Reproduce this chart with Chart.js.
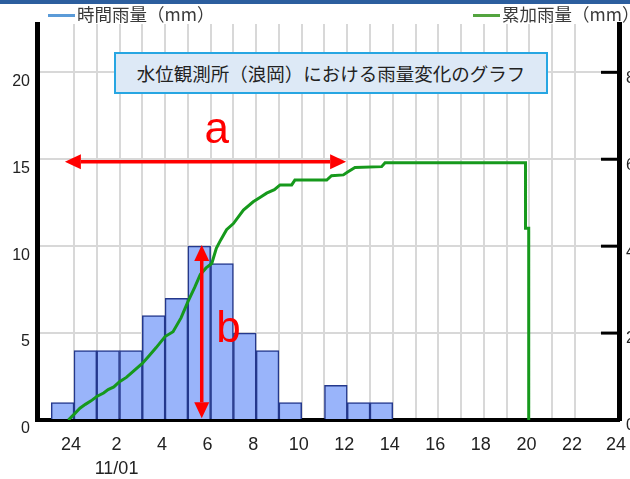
<!DOCTYPE html>
<html lang="ja">
<head>
<meta charset="utf-8">
<title>水位観測所（浪岡）における雨量変化のグラフ</title>
<script src="https://cdn.jsdelivr.net/npm/chart.js@4/dist/chart.umd.min.js"></script>
<style>
  html, body { margin: 0; padding: 0; background: #fff; overflow: hidden; }
  #wrap { position: relative; width: 630px; height: 479px; }
  #topbar { position: absolute; left: 0; top: 0; width: 630px; height: 4px; background: #2c5e9e; }
  .legend { position: absolute; top: 3px; font: 17.5px "Noto Sans CJK JP", sans-serif; color: #3a3a3a; line-height: 22px; white-space: nowrap; }
  .legend i { display: inline-block; width: 27px; height: 3px; vertical-align: middle; margin-right: 2px; position: relative; top: -1px; }
  #titlebox { position: absolute; left: 114px; top: 52px; width: 430px; height: 38px; border: 2px solid #27a6e2;
              background: #dde9f6; font: 18.5px "Noto Sans CJK JP", sans-serif; color: #222; text-align: center; line-height: 38px; }
</style>
</head>
<body>
<div id="wrap">
  <canvas id="rainChart"></canvas>
  <div id="topbar"></div>
  <div class="legend" id="legHourly" style="left:48px"><i style="background:#5b9bd8"></i><span></span></div>
  <div class="legend" id="legCum" style="left:473px"><i style="background:#53a43f"></i><span></span></div>
  <div id="titlebox">水位観測所（浪岡）における雨量変化のグラフ</div>
</div>
<script>
// 時間雨量: 各時刻までの1時間の雨量 (mm)
const hours = [0, 1, 2, 3, 4, 5, 6, 7, 8, 9, 10, 11, 12, 13, 14];
const hourlyRain = [1, 4, 4, 4, 6, 7, 10, 9, 5, 4, 1, 0, 2, 1, 1];

// 累加雨量 (mm), 時刻は 11/01 0時からの時間
const cumHours = [-0.25, 0.0, 0.26, 0.5, 0.75, 1.0, 1.3, 1.5, 1.75, 2.0, 2.3, 2.6, 3.0, 3.3, 3.6, 4.0, 4.35, 4.7,
                  5.0, 5.3, 5.55, 5.8, 6.05, 6.25, 6.45, 6.7, 7.0, 7.44, 7.87, 8.2, 8.46, 8.8, 9.05, 9.56, 9.7,
                  11.1, 11.31, 11.83, 12.0, 12.34, 13.51, 13.66, 19.83, 19.83, 19.97, 19.97];
const cumRain = [0, 1.3, 2.7, 3.6, 4.4, 5.4, 6.2, 7.0, 7.6, 8.8, 9.8, 11.2, 13.0, 14.8, 16.6, 19.2, 20.3, 23.5,
                 27.2, 30.5, 33.5, 35.0, 36.0, 39.5, 41.5, 43.8, 45.2, 48.3, 50.2, 51.3, 52.2, 53.0, 54.1, 54.1, 55.2,
                 55.2, 56.2, 56.4, 57.0, 58.1, 58.3, 59.2, 59.2, 44.1, 44.1, 0];

// 横軸の目盛ラベル
const tickHours = [0, 2, 4, 6, 8, 10, 12, 14, 16, 18, 20, 22, 24];
const tickLabels = ['24', '2', '4', '6', '8', '10', '12', '14', '16', '18', '20', '22', '24'];
const dateLabel = '11/01';

const seriesNames = ['時間雨量（mm）', '累加雨量（mm）'];

// 注記 a, b (データ座標)
const arrowA = { from: -0.4, to: 11.95, level: 14.85 };
const arrowB = { at: 5.61, from: 0.1, to: 10.07 };
const letterA = { text: 'a', x: 6.27, y: 15.94 };
const letterB = { text: 'b', x: 6.78, y: 4.49 };

document.getElementById('legHourly').querySelector('span').textContent = seriesNames[0];
document.getElementById('legCum').querySelector('span').textContent = seriesNames[1];

function drawArrow(ctx, ax, ay, bx, by) {
  const len = 16, hw = 7.5;
  const ang = Math.atan2(by - ay, bx - ax);
  const ux = Math.cos(ang), uy = Math.sin(ang);
  ctx.beginPath();
  ctx.moveTo(ax + ux * len, ay + uy * len);
  ctx.lineTo(bx - ux * len, by - uy * len);
  ctx.stroke();
  const head = (tx, ty, dx, dy) => {
    ctx.beginPath();
    ctx.moveTo(tx, ty);
    ctx.lineTo(tx - dx * len - dy * hw, ty - dy * len + dx * hw);
    ctx.lineTo(tx - dx * len + dy * hw, ty - dy * len - dx * hw);
    ctx.closePath();
    ctx.fill();
  };
  head(bx, by, ux, uy);
  head(ax, ay, -ux, -uy);
}

const overlay = {
  id: 'overlay',
  afterDatasetsDraw(chart) {
    const { ctx, chartArea, scales: { x, y, y1 } } = chart;
    ctx.save();
    // 右軸の内向き目盛
    ctx.strokeStyle = '#000';
    ctx.lineWidth = 3;
    y1.ticks.forEach(t => {
      if (t.value === 0) return;
      const py = y1.getPixelForValue(t.value);
      ctx.beginPath();
      ctx.moveTo(chartArea.right - 18, py);
      ctx.lineTo(chartArea.right, py);
      ctx.stroke();
    });
    // 矢印
    ctx.strokeStyle = '#ff0000';
    ctx.fillStyle = '#ff0000';
    ctx.lineWidth = 3.5;
    drawArrow(ctx, x.getPixelForValue(arrowA.from), y.getPixelForValue(arrowA.level),
                   x.getPixelForValue(arrowA.to), y.getPixelForValue(arrowA.level));
    drawArrow(ctx, x.getPixelForValue(arrowB.at), y.getPixelForValue(arrowB.to),
                   x.getPixelForValue(arrowB.at), y.getPixelForValue(arrowB.from));
    ctx.font = '44px "Liberation Sans", Arial, sans-serif';
    ctx.textAlign = 'center';
    ctx.textBaseline = 'alphabetic';
    [letterA, letterB].forEach(l => ctx.fillText(l.text, x.getPixelForValue(l.x), y.getPixelForValue(l.y)));
    ctx.restore();
  }
};

const ctx = document.getElementById('rainChart').getContext('2d');
new Chart(ctx, {
  type: 'bar',
  data: {
    datasets: [
      {
        type: 'line',
        label: seriesNames[1],
        data: cumHours.map((h, i) => ({ x: h, y: cumRain[i] })),
        yAxisID: 'y1',
        borderColor: '#16991c',
        borderWidth: 3,
        pointRadius: 0,
        tension: 0,
        fill: false,
        order: 0
      },
      {
        type: 'bar',
        label: seriesNames[0],
        data: hours.map((h, i) => ({ x: h - 0.5, y: hourlyRain[i] })),
        yAxisID: 'y',
        backgroundColor: '#99b4fa',
        borderColor: '#24388c',
        borderWidth: 1.5,
        barPercentage: 1,
        categoryPercentage: 1,
        order: 1
      }
    ]
  },
  options: {
    responsive: true,
    maintainAspectRatio: false,
    animation: false,
    layout: { autoPadding: false, padding: { top: 24, left: 0, right: 0, bottom: 0 } },
    plugins: {
      legend: { display: false },
      title: { display: false },
      tooltip: { enabled: false }
    },
    scales: {
      x: {
        type: 'linear',
        min: -1.625,
        max: 23.935,
        offset: false,
        afterFit: s => { s.height = 59; s.paddingLeft = 0; s.paddingRight = 0; },
        grid: { color: '#d8d8d8', lineWidth: 2, drawTicks: false, offset: false },
        border: { color: '#000', width: 4 },
        ticks: {
          stepSize: 1,
          autoSkip: false,
          maxRotation: 0,
          padding: 14,
          labelOffset: -3,
          color: '#222',
          font: { family: '"Liberation Sans", Arial, sans-serif', size: 18, lineHeight: 1.28 },
          callback: v => {
            const r = Math.round(v);
            const i = tickHours.indexOf(r);
            if (i < 0 || Math.abs(v - r) > 0.1) return '';
            return r === 2 ? [tickLabels[i], dateLabel] : tickLabels[i];
          }
        }
      },
      y: {
        position: 'left',
        min: 0,
        max: 22.78,
        afterFit: s => { s.width = 37; },
        grid: { color: '#d8d8d8', lineWidth: 2, drawTicks: false },
        border: { color: '#000', width: 5 },
        ticks: {
          stepSize: 5,
          includeBounds: false,
          padding: 7,
          labelOffset: 9,
          color: '#222',
          font: { family: '"Liberation Sans", Arial, sans-serif', size: 16 }
        }
      },
      y1: {
        position: 'right',
        min: 0,
        max: 91.12,
        afterFit: s => { s.width = 11; },
        grid: { drawOnChartArea: false, drawTicks: false },
        border: { color: '#000', width: 5 },
        ticks: {
          stepSize: 20,
          includeBounds: false,
          padding: 7,
          labelOffset: 6,
          color: '#222',
          font: { family: '"Liberation Sans", Arial, sans-serif', size: 16 }
        }
      }
    }
  },
  plugins: [overlay]
});
</script>
</body>
</html>
